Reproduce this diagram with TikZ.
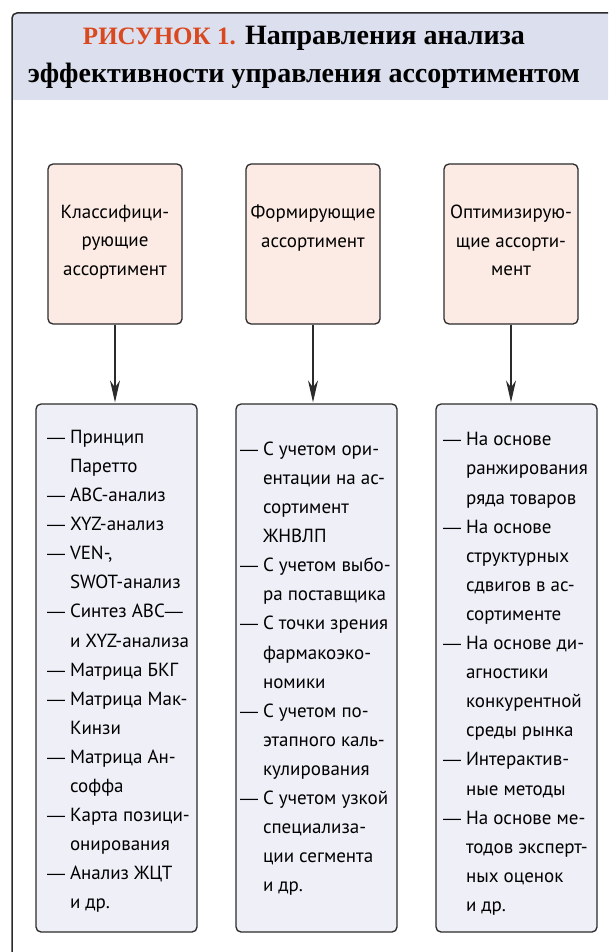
\documentclass[tikz,border=0pt]{standalone}
\usepackage{fontspec}
\setmainfont{PT Sans}
\newfontfamily\titlefont{Liberation Serif}
\newfontfamily\dashfont{Liberation Sans}
\usetikzlibrary{positioning,arrows.meta}
\definecolor{bandblue}{HTML}{DCE0EE}
\definecolor{peach}{HTML}{FCEBE4}
\definecolor{lavender}{HTML}{EEEFF7}
\definecolor{figred}{HTML}{D9481F}
\definecolor{edge}{HTML}{2B2B2B}
\newcommand{\topcell}[1]{\parbox[c][160pt][t]{134pt}{\centering\vspace*{41pt}#1\par}}
\newcommand{\listcell}[3]{\parbox[c][528pt][t]{161pt}{\vspace*{#1}\begin{tabular}{@{\hspace{#2}}l@{\hspace{5pt}}l@{}}#3\end{tabular}}}
\newcommand{\dsh}{{\dashfont\fontsize{18}{18}\selectfont —}}

\begin{document}
\begin{tikzpicture}[x=1pt,y=-1pt,
    topbox/.style={draw=edge,line width=1.3pt,rounded corners=5pt,fill=peach,inner sep=0pt,font=\fontsize{19}{28.5}\selectfont},
    listbox/.style={draw=edge,line width=1.3pt,rounded corners=5pt,fill=lavender,inner sep=0pt,font=\fontsize{19}{29.1}\selectfont},
    link/.style={draw=edge,line width=1.3pt,shorten >=1pt,-{Stealth[length=22pt,width=10pt]}}
    ]
\useasboundingbox (0,0) rectangle (608,952);
\clip (0,0) rectangle (608,952);
\fill[bandblue] [rounded corners=5pt] (12,100) -- (12,13) -- (660,13) [sharp corners] -- (660,100) -- cycle;
\draw[edge,line width=1.5pt,rounded corners=5pt] (12,13) rectangle (660,1000);
\node[font=\titlefont\bfseries\fontsize{28}{38}\selectfont,align=center] (title) at (304,57)
    {{\color{figred}\fontsize{25}{38}\selectfont РИСУНОК 1.} Направления анализа\\эффективности управления ассортиментом};

\node[topbox] (cls) at (115,244) {\topcell{Классифици-\\рующие\\ассортимент}};
\node[topbox] (frm) at (313,244) {\topcell{Формирующие\\ассортимент}};
\node[topbox] (opt) at (511,244) {\topcell{Оптимизирую-\\щие ассорти-\\мент}};

\node[listbox] (clslist) at (116.5,668) {\listcell{19pt}{11pt}{
\dsh & Принцип\\ & Паретто\\
\dsh & ABC-анализ\\
\dsh & XYZ-анализ\\
\dsh & VEN-,\\ & SWOT-анализ\\
\dsh & Синтез ABC\dsh\\ & и XYZ-анализа\\
\dsh & Матрица БКГ\\
\dsh & Матрица Мак-\\ & Кинзи\\
\dsh & Матрица Ан-\\ & соффа\\
\dsh & Карта позици-\\ & онирования\\
\dsh & Анализ ЖЦТ\\ & и др.}};
\node[listbox] (frmlist) at (316.5,668) {\listcell{31pt}{4pt}{
\dsh & С учетом ори-\\ & ентации на ас-\\ & сортимент\\ & ЖНВЛП\\
\dsh & С учетом выбо-\\ & ра поставщика\\
\dsh & С точки зрения\\ & фармакоэко-\\ & номики\\
\dsh & С учетом по-\\ & этапного каль-\\ & кулирования\\
\dsh & С учетом узкой\\ & специализа-\\ & ции сегмента\\ & и др.}};
\node[listbox] (optlist) at (516.5,668) {\listcell{21.5pt}{7pt}{
\dsh & На основе\\ & ранжирования\\ & ряда товаров\\
\dsh & На основе\\ & структурных\\ & сдвигов в ас-\\ & сортименте\\
\dsh & На основе ди-\\ & агностики\\ & конкурентной\\ & среды рынка\\
\dsh & Интерактив-\\ & ные методы\\
\dsh & На основе ме-\\ & тодов эксперт-\\ & ных оценок\\ & и др.}};

\draw[link] (cls.south) -- (cls.south |- clslist.north);
\draw[link] (frm.south) -- (frm.south |- frmlist.north);
\draw[link] (opt.south) -- (opt.south |- optlist.north);
\end{tikzpicture}
\end{document}
